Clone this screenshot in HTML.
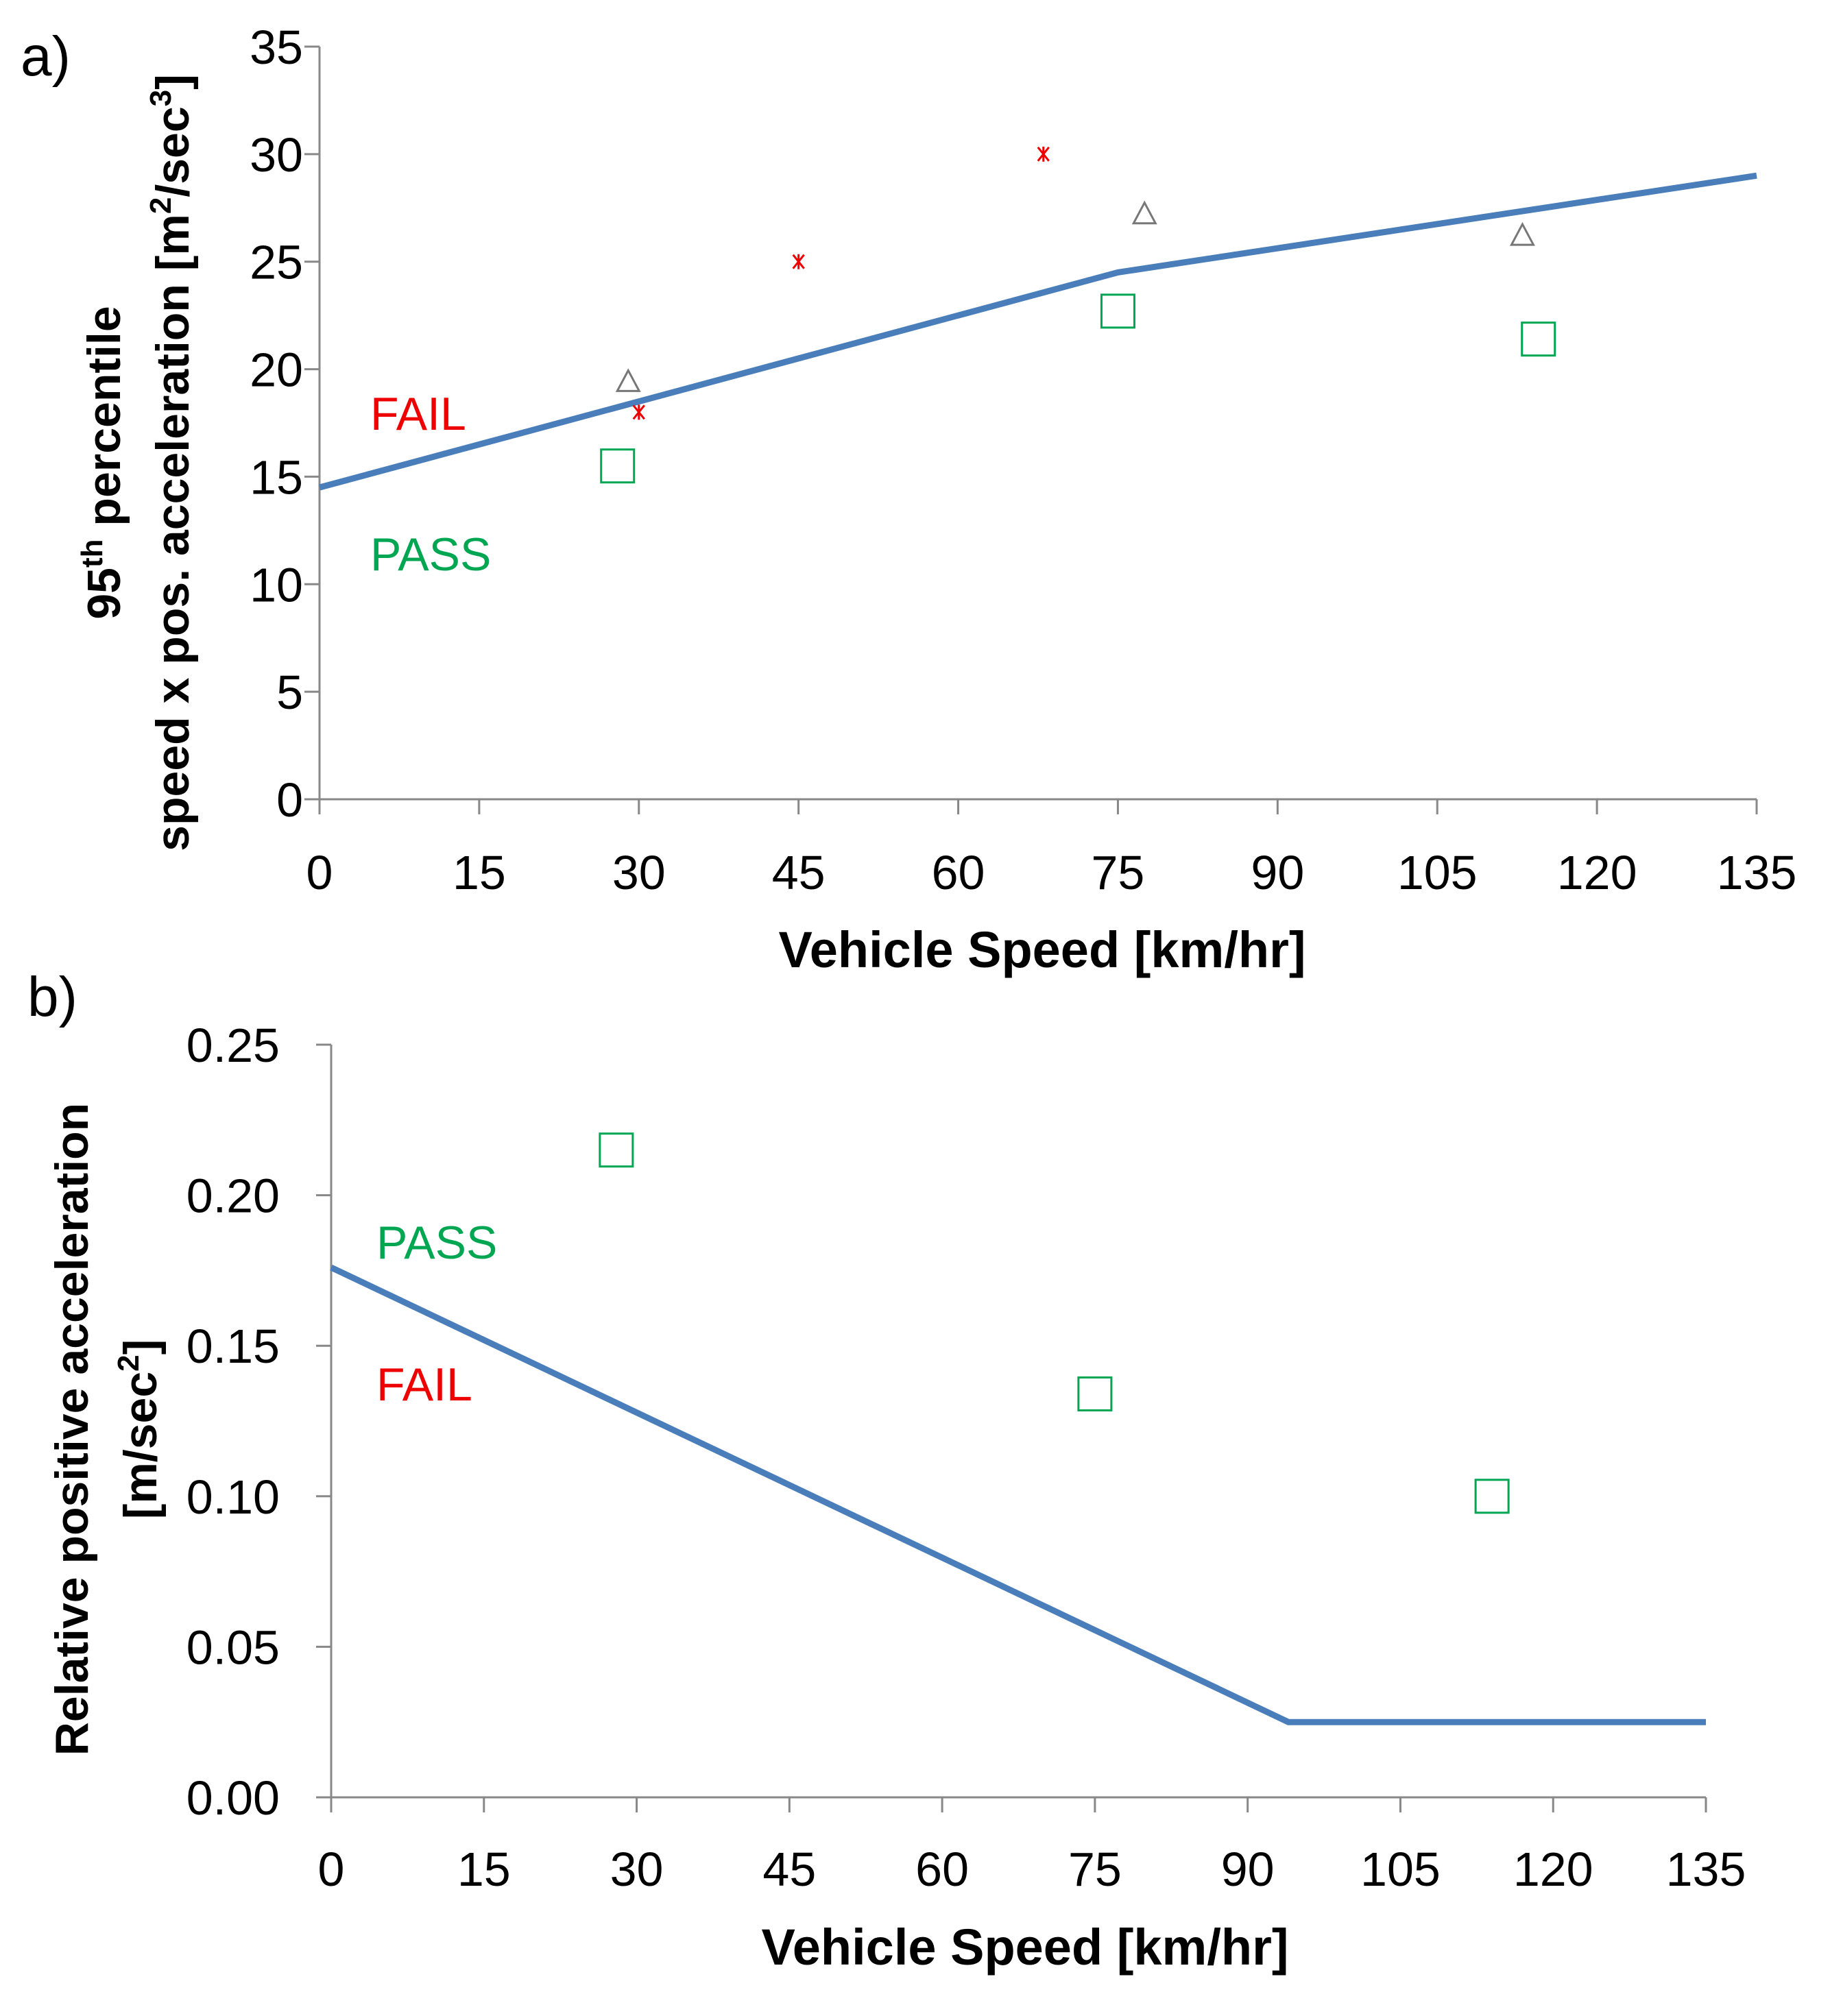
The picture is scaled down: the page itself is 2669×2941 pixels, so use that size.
<!DOCTYPE html>
<html><head><meta charset="utf-8"><style>
html,body{margin:0;padding:0;background:#fff;}
svg{display:block;font-family:"Liberation Sans",sans-serif;}
</style></head><body>
<svg id="chart" width="2669" height="2941" viewBox="0 0 2669 2941" xmlns="http://www.w3.org/2000/svg">
<text x="30" y="110" font-size="82">a)</text>
<text x="40" y="1482" font-size="82">b)</text>
<g id="ga"></g>
<g id="gb"></g>
</svg>
<script>
const xTicks=[0,15,30,45,60,75,90,105,120,135];
const aYTicks=[0,5,10,15,20,25,30,35];
const aLineX=[0,75,135];
const aLineY=[14.5,24.5,29];
const aSqX=[28,75,114.5];
const aSqY=[15.5,22.7,21.4];
const aTriX=[29,77.5,113];
const aTriY=[19.4,27.2,26.2];
const aStarX=[30,45,68];
const aStarY=[18,25,30];
const bYTicks=[0,0.05,0.10,0.15,0.20,0.25];
const bYLabels=["0.00","0.05","0.10","0.15","0.20","0.25"];
const bLineX=[0,94,135];
const bLineY=[0.176,0.025,0.025];
const bSqX=[28,75,114];
const bSqY=[0.215,0.134,0.1];

const NS="http://www.w3.org/2000/svg";
function mk(p,tag,at,txt){const e=document.createElementNS(NS,tag);for(const k in at)e.setAttribute(k,at[k]);if(txt!==undefined)e.textContent=txt;p.appendChild(e);return e;}

function drawAxes(g,sx,sy,x0,x1,y0,y1,yT,yL,yLabX,xLabY){
  const ax=mk(g,'path',{d:`M${sx(x0)},${sy(y1)}V${sy(y0)}H${sx(x1)}`,stroke:'#888',fill:'none','stroke-width':3});
  
  
  yT.forEach((v,i)=>{
    const t=mk(g,'line',{x1:sx(x0)-22,x2:sx(x0),y1:sy(v),y2:sy(v),stroke:'#888','stroke-width':3});
    
    
    const l=mk(g,'text',{x:yLabX,y:sy(v)+25,'font-size':70,'text-anchor':'end'},yL[i]);
    
    
  });
  xTicks.forEach(v=>{
    const t=mk(g,'line',{x1:sx(v),x2:sx(v),y1:sy(y0),y2:sy(y0)+22,stroke:'#888','stroke-width':3});
    
    
    const l=mk(g,'text',{x:sx(v),y:xLabY,'font-size':70,'text-anchor':'middle'},String(v));
    
    
  });
}
function drawLine(g,sx,sy,X,Y){
  const p=mk(g,'polyline',{points:X.map((x,i)=>sx(x)+','+sy(Y[i])).join(' '),stroke:'#4a7ebb','stroke-width':9,fill:'none'});
  
  
}
function drawSq(g,sx,sy,X,Y){
  X.forEach((x,i)=>{
    const r=mk(g,'rect',{x:sx(x)-24,y:sy(Y[i])-24,width:48,height:48,fill:'none',stroke:'#00a651','stroke-width':3});
    
    
  });
}

// Chart A
const ga=document.getElementById('ga');
const ax=v=>466+(2562-466)*v/135, ay=v=>1166-(1166-68)*v/35;
drawAxes(ga,ax,ay,0,135,0,35,aYTicks,aYTicks.map(String),442,1297);
drawLine(ga,ax,ay,aLineX,aLineY);
drawSq(ga,ax,ay,aSqX,aSqY);
aTriX.forEach((x,i)=>{
  const cx=ax(x),cy=ay(aTriY[i]);
  const t=mk(ga,'path',{d:`M${cx},${cy-17}L${cx+16},${cy+13}L${cx-16},${cy+13}Z`,fill:'none',stroke:'#777','stroke-width':3});
  
  
});
aStarX.forEach((x,i)=>{
  const cx=ax(x),cy=ay(aStarY[i]);
  const s=mk(ga,'path',{d:`M${cx-8},${cy-10}L${cx+8},${cy+10}M${cx+8},${cy-10}L${cx-8},${cy+10}M${cx},${cy-11}V${cy+11}`,stroke:'#e00','stroke-width':3});
  
  
});
mk(ga,'text',{x:540,y:627,'font-size':68,fill:'#e00'},'FAIL');
mk(ga,'text',{x:540,y:832,'font-size':68,fill:'#00a651'},'PASS');
mk(ga,'text',{x:1520,y:1411,'font-size':74,'font-weight':'bold','text-anchor':'middle'},'Vehicle Speed [km/hr]');
const ta=mk(ga,'text',{transform:'translate(0,675) rotate(-90)','font-size':68,'font-weight':'bold','text-anchor':'middle'});

ta.innerHTML='<tspan x="0" y="175">95<tspan font-size="44" dy="-26">th</tspan><tspan dy="26"> percentile</tspan></tspan><tspan x="0" y="275">speed x pos. acceleration [m<tspan font-size="44" dy="-26">2</tspan><tspan dy="26">/sec</tspan><tspan font-size="44" dy="-26">3</tspan><tspan dy="26">]</tspan></tspan>';

// Chart B
const gb=document.getElementById('gb');
const bx=v=>483+(2488-483)*v/135, by=v=>2622-(2622-1524)*v/0.25;
drawAxes(gb,bx,by,0,135,0,0.25,bYTicks,bYLabels,408,2751);
drawLine(gb,bx,by,bLineX,bLineY);
drawSq(gb,bx,by,bSqX,bSqY);
mk(gb,'text',{x:549,y:1836,'font-size':68,fill:'#00a651'},'PASS');
mk(gb,'text',{x:549,y:2043,'font-size':68,fill:'#e00'},'FAIL');
mk(gb,'text',{x:1495,y:2866,'font-size':74,'font-weight':'bold','text-anchor':'middle'},'Vehicle Speed [km/hr]');
const tb=mk(gb,'text',{transform:'translate(0,2085) rotate(-90)','font-size':68,'font-weight':'bold','text-anchor':'middle'});

tb.innerHTML='<tspan x="0" y="128">Relative positive acceleration</tspan><tspan x="0" y="228">[m/sec<tspan font-size="44" dy="-26">2</tspan><tspan dy="26">]</tspan></tspan>';
</script>
</body></html>
